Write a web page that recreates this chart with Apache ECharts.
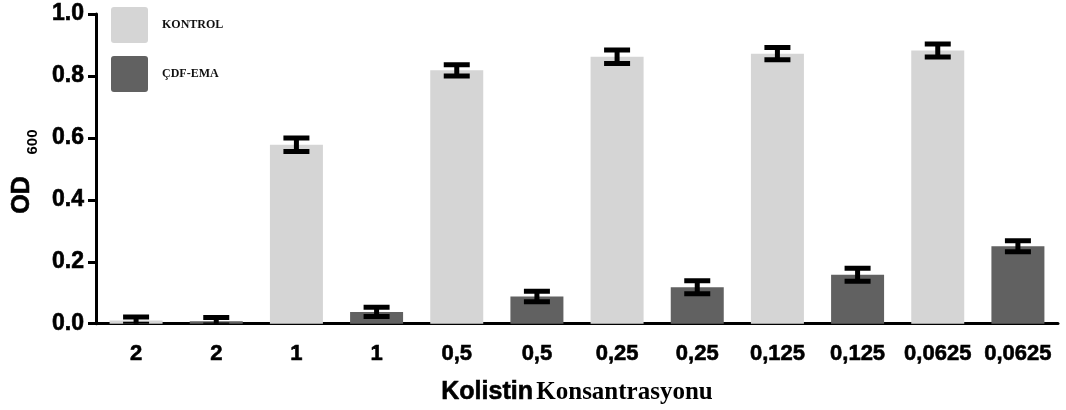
<!DOCTYPE html>
<html>
<head>
<meta charset="utf-8">
<script src="https://cdn.jsdelivr.net/npm/echarts@6/dist/echarts.min.js"></script>
<style>
  html, body { margin: 0; padding: 0; background: #fff; }
  #chart { width: 1066px; height: 410px; }
</style>
</head>
<body>
<div id="chart"></div>
<script>
// Colistin concentrations (each tested with and without the compound)
const concentrations = ['2', '1', '0,5', '0,25', '0,125', '0,0625'];
// OD600 means and standard deviations
const kontrolMean = [0.010, 0.578, 0.818, 0.862, 0.872, 0.882];
const kontrolSd   = [0.012, 0.022, 0.018, 0.022, 0.020, 0.021];
const cdfMean     = [0.008, 0.038, 0.088, 0.118, 0.158, 0.250];
const cdfSd       = [0.012, 0.015, 0.017, 0.021, 0.021, 0.018];
const yTicks = [0, 0.2, 0.4, 0.6, 0.8, 1.0];

const KONTROL = 'KONTROL';
const CDF = 'ÇDF-EMA';

// Interleave: KONTROL, ÇDF-EMA for each concentration
const categories = [];
const kontrolBars = [];
const cdfBars = [];
const errData = [];
concentrations.forEach((c, i) => {
  categories.push(c, c);
  kontrolBars.push(kontrolMean[i], null);
  cdfBars.push(null, cdfMean[i]);
  errData.push([2 * i, kontrolMean[i], kontrolSd[i]]);
  errData.push([2 * i + 1, cdfMean[i], cdfSd[i]]);
});

const sans = '"Liberation Sans", Arial, sans-serif';
const serif = '"Liberation Serif", "Times New Roman", serif';
const heavy = { textBorderColor: '#000', textBorderWidth: 0.6 };

// slightly rounded square for legend swatches
const swatch = 'path://M3,0 H34 A3,3 0 0 1 37,3 V33 A3,3 0 0 1 34,36 H3 A3,3 0 0 1 0,33 V3 A3,3 0 0 1 3,0 Z';

const chart = echarts.init(document.getElementById('chart'));
chart.setOption({
  animation: false,
  backgroundColor: '#ffffff',
  grid: { left: 96, right: 8, top: 14, bottom: 82 },
  legend: {
    orient: 'vertical',
    left: 111,
    top: 7,
    padding: 0,
    itemWidth: 37,
    itemHeight: 36,
    itemGap: 13,
    icon: swatch,
    data: [KONTROL, CDF],
    textStyle: {
      fontFamily: serif,
      fontWeight: 'bold',
      fontSize: 12,
      color: '#111',
      padding: [0, 0, 0, 9]
    }
  },
  // y-axis title: "OD" with subscript "600", rotated
  graphic: [
    {
      type: 'text',
      x: 22,
      y: 195,
      rotation: Math.PI / 2,
      style: Object.assign({
        text: 'OD',
        fontFamily: sans,
        fontWeight: 'bold',
        fontSize: 25,
        fill: '#000',
        align: 'center',
        verticalAlign: 'middle'
      }, { stroke: '#000', lineWidth: 0.6 })
    },
    {
      type: 'text',
      x: 33,
      y: 142,
      rotation: Math.PI / 2,
      style: {
        text: '600',
        fontFamily: sans,
        fontWeight: 'bold',
        fontSize: 15,
        fill: '#000',
        align: 'center',
        verticalAlign: 'middle'
      }
    }
  ],
  xAxis: {
    type: 'category',
    data: categories,
    name: '{a|Kolistin} {b|Konsantrasyonu}',
    nameLocation: 'middle',
    nameGap: 56,
    nameTextStyle: {
      rich: {
        a: Object.assign({ fontFamily: sans, fontWeight: 'bold', fontSize: 25, color: '#000' }, heavy),
        b: { fontFamily: serif, fontWeight: 'bold', fontSize: 25, color: '#000' }
      }
    },
    axisLine: { lineStyle: { color: '#000', width: 3 } },
    axisTick: { alignWithLabel: true, length: 8, lineStyle: { color: '#000', width: 3 } },
    axisLabel: Object.assign({
      interval: 0,
      margin: 19,
      fontFamily: sans,
      fontWeight: 'bold',
      fontSize: 22,
      color: '#000'
    }, heavy)
  },
  yAxis: {
    type: 'value',
    min: 0,
    max: 1,
    interval: 0.2,
    splitLine: { show: false },
    axisLine: { show: true, lineStyle: { color: '#000', width: 3 } },
    axisTick: { show: true, length: 8, lineStyle: { color: '#000', width: 3 } },
    axisLabel: Object.assign({
      margin: 12,
      fontFamily: sans,
      fontWeight: 'bold',
      fontSize: 23,
      color: '#000',
      customValues: yTicks,
      formatter: v => v.toFixed(1)
    }, heavy)
  },
  series: [
    {
      name: KONTROL,
      type: 'bar',
      data: kontrolBars,
      barWidth: 53,
      barGap: '-100%',
      itemStyle: { color: '#d5d5d5' }
    },
    {
      name: CDF,
      type: 'bar',
      data: cdfBars,
      barWidth: 53,
      barGap: '-100%',
      itemStyle: { color: '#616161' }
    },
    {
      type: 'custom',
      name: 'sd',
      data: errData,
      clip: true,
      z: 5,
      encode: { x: 0, y: 1 },
      renderItem: (params, api) => {
        const idx = api.value(0);
        const m = api.value(1);
        const s = api.value(2);
        const hi = api.coord([idx, m + s]);
        const lo = api.coord([idx, m - s]);
        const hw = 13;
        const st = { stroke: '#000', lineWidth: 5 };
        return {
          type: 'group',
          children: [
            { type: 'line', shape: { x1: hi[0], y1: hi[1], x2: lo[0], y2: lo[1] }, style: st },
            { type: 'line', shape: { x1: hi[0] - hw, y1: hi[1], x2: hi[0] + hw, y2: hi[1] }, style: st },
            { type: 'line', shape: { x1: lo[0] - hw, y1: lo[1], x2: lo[0] + hw, y2: lo[1] }, style: st }
          ]
        };
      }
    }
  ]
});
</script>
</body>
</html>
